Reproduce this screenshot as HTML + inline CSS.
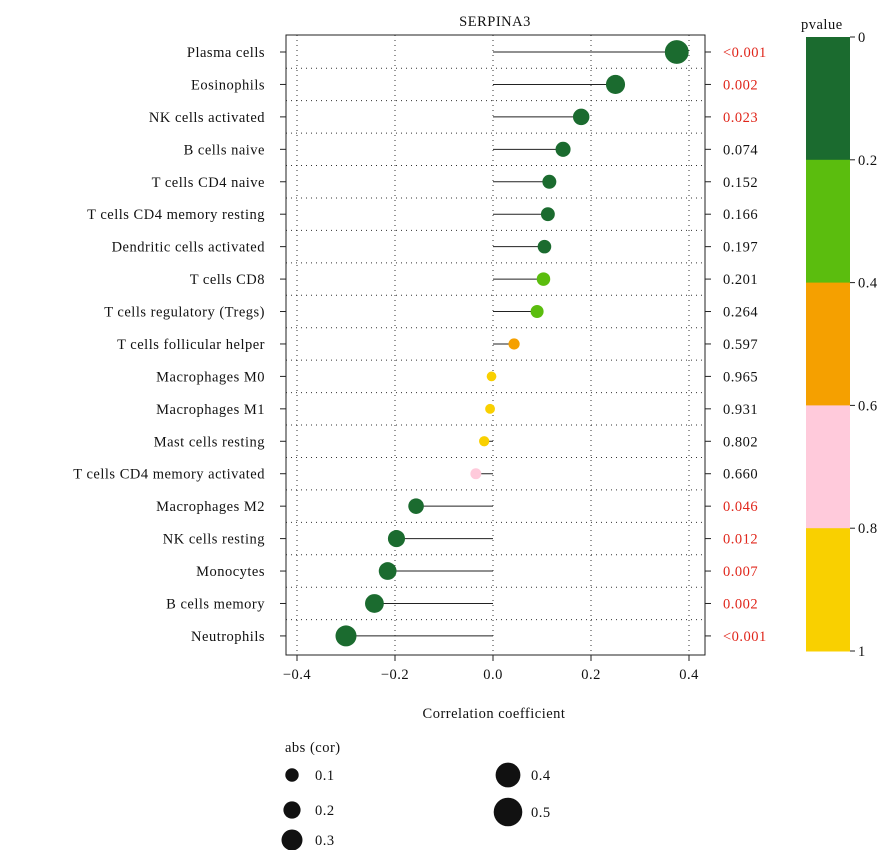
<!DOCTYPE html>
<html><head><meta charset="utf-8"><style>
body{margin:0;background:#fff;}
svg text{font-family:"Liberation Serif",serif;font-size:14.5px;letter-spacing:0.5px;fill:#111;}
</style></head><body>
<svg id="chart" width="886" height="850" xmlns="http://www.w3.org/2000/svg">
<text x="495" y="26" text-anchor="middle">SERPINA3</text>
<g id="grid"></g>
<g id="marks"></g>
<rect x="286" y="35" width="419" height="620" fill="none" stroke="#222" stroke-width="1"/>
<g id="yaxis"></g>
<g id="xaxis"></g>
<text x="494" y="718" text-anchor="middle">Correlation coefficient</text>
<g id="cbar"></g>
<text x="801" y="29">pvalue</text>
<g id="slegend"></g>
<text x="285" y="752">abs (cor)</text>
</svg>
<script>
const categories=["Plasma cells","Eosinophils","NK cells activated","B cells naive","T cells CD4 naive","T cells CD4 memory resting","Dendritic cells activated","T cells CD8","T cells regulatory (Tregs)","T cells follicular helper","Macrophages M0","Macrophages M1","Mast cells resting","T cells CD4 memory activated","Macrophages M2","NK cells resting","Monocytes","B cells memory","Neutrophils"];
const cor=[0.375,0.25,0.18,0.143,0.115,0.112,0.105,0.103,0.09,0.043,-0.003,-0.006,-0.018,-0.035,-0.157,-0.197,-0.215,-0.242,-0.3];
const pvals=[0.0005,0.002,0.023,0.074,0.152,0.166,0.197,0.201,0.264,0.597,0.965,0.931,0.802,0.660,0.046,0.012,0.007,0.002,0.0005];
const pLabels=["<0.001","0.002","0.023","0.074","0.152","0.166","0.197","0.201","0.264","0.597","0.965","0.931","0.802","0.660","0.046","0.012","0.007","0.002","<0.001"];
const xTicks=[-0.4,-0.2,0,0.2,0.4];
const xTickLabels=["\u22120.4","\u22120.2","0.0","0.2","0.4"];
const cbarTicks=["0","0.2","0.4","0.6","0.8","1"];
const sizeLegend=[0.1,0.2,0.3,0.4,0.5];
const NS="http://www.w3.org/2000/svg";
const X=v=>493+v*490;
const Y=i=>52+i*32.44;
const R=c=>4.8+19*Math.abs(c);
const colors=["#1b6b2f","#5bbd0e","#f5a000","#ffcadb","#f9d000"];
const col=p=>colors[Math.min(4,Math.floor(p/0.2))];
function mk(t,a,parent){const e=document.createElementNS(NS,t);for(const k in a)e.setAttribute(k,a[k]);parent.appendChild(e);return e;}
const grid=document.getElementById('grid'),marks=document.getElementById('marks'),ya=document.getElementById('yaxis'),xa=document.getElementById('xaxis');
xTicks.forEach((v,i)=>{
 const l=mk('line',{x1:X(v),x2:X(v),y1:35,y2:655,stroke:'#333','stroke-dasharray':'1,4'},grid);
 
 
 const t=mk('line',{x1:X(v),x2:X(v),y1:655,y2:661,stroke:'#222'},xa);
 
 
 const tx=mk('text',{x:X(v),y:679,'text-anchor':'middle'},xa);tx.textContent=xTickLabels[i];
 
 
});
categories.forEach((c,i)=>{
 const y=Y(i);
 if(i<categories.length-1){const g=mk('line',{x1:286,x2:705,y1:y+16.2,y2:y+16.2,stroke:'#333','stroke-dasharray':'1,4'},grid);
 
 }
 const tk=mk('line',{x1:280,x2:286,y1:y,y2:y,stroke:'#222'},ya);
 
 
 const lt=mk('text',{x:265,y:y+5,'text-anchor':'end'},ya);lt.textContent=c;
 
 
 const rt=mk('line',{x1:705,x2:711,y1:y,y2:y,stroke:'#222'},ya);
 
 
 const pt=mk('text',{x:723,y:y+5},ya);pt.textContent=pLabels[i];
 if(pvals[i]<0.05)pt.setAttribute('style','fill:#e0261b');
 
 
 const s=mk('line',{x1:X(0),x2:X(cor[i]),y1:y,y2:y,stroke:'#222','stroke-width':1},marks);
 
 
 const d=mk('circle',{cx:X(cor[i]),cy:y,r:R(cor[i]),fill:col(pvals[i])},marks);
 
 
});
const cb=document.getElementById('cbar');
const cbTop=37,cbH=614,seg=cbH/5;
colors.forEach((c,i)=>{const r=mk('rect',{x:806,y:cbTop+i*seg,width:44,height:seg+0.5,fill:c},cb);
 
 });
cbarTicks.forEach((t,i)=>{const y=cbTop+i*seg;
 const l=mk('line',{x1:850,x2:855,y1:y,y2:y,stroke:'#222'},cb);
 
 
 const tx=mk('text',{x:858,y:y+5},cb);tx.textContent=t;
 
 });
const sl=document.getElementById('slegend');
const slPos=[[292,775],[292,810],[292,840],[508,775],[508,812]];
sizeLegend.forEach((v,i)=>{const [x,y]=slPos[i];
 const c=mk('circle',{cx:x,cy:y,r:R(v),fill:'#111'},sl);
 
 
 const t=mk('text',{x:x+23,y:y+5},sl);t.textContent=v.toFixed(1);
 
 });
</script>
</body></html>
